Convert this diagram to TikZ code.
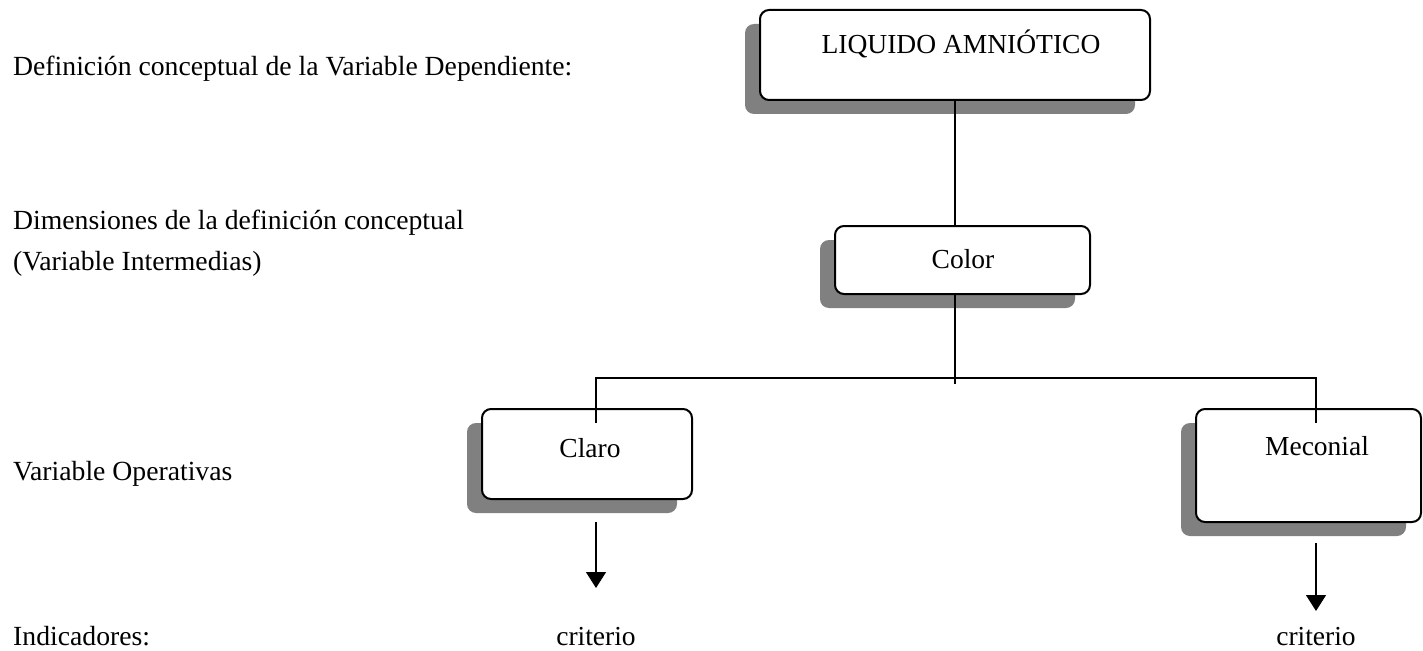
\documentclass[tikz,border=0pt]{standalone}
\usepackage{fontspec}
\setmainfont{Liberation Serif}
\usetikzlibrary{shadows,arrows.meta}

\tikzset{
  varbox/.style={draw=black, line width=2pt, fill=white, rounded corners=9pt, inner sep=0pt,
    drop shadow={shadow xshift=-15pt, shadow yshift=-14pt, fill=black!50, opacity=1}},
  vartext/.style={anchor=base, inner sep=0pt, font=\fontsize{27.5}{33}\selectfont},
  sidetext/.style={anchor=base west, inner sep=0pt, font=\fontsize{27.7}{33}\selectfont},
  link/.style={line width=1.3pt},
  arrowlink/.style={line width=1.3pt, -{Triangle[length=16pt,width=20pt]}}
}

\begin{document}
\begin{tikzpicture}[x=1pt, y=-1pt]
  %%%%% START %%%%%
  \useasboundingbox (0,0) rectangle (1423,650);

  \node[sidetext] (defcon) at (13,76) {Definición conceptual de la Variable Dependiente:};
  \node[sidetext] (dimcon) at (13,229) {Dimensiones de la definición conceptual};
  \node[sidetext] (varint) at (13,270) {(Variable Intermedias)};
  \node[sidetext] (varope) at (13,480) {Variable Operativas};
  \node[sidetext] (indic) at (13,645) {Indicadores:};

  \node[varbox, minimum width=390pt, minimum height=90pt] (liq) at (955,55) {};
  \node[varbox, minimum width=255pt, minimum height=68pt] (col) at (962.5,260) {};
  \node[varbox, minimum width=210pt, minimum height=90pt] (cla) at (587,454) {};
  \node[varbox, minimum width=225pt, minimum height=113pt] (mec) at (1308.5,465.5) {};

  \node[vartext] (liqtxt) at (961,54) {LIQUIDO AMNIÓTICO};
  \node[vartext] (coltxt) at (963,268) {Color};
  \node[vartext] (clatxt) at (590,457) {Claro};
  \node[vartext] (mectxt) at (1317,455) {Meconial};

  \node[vartext] (crit1) at (596,645) {criterio};
  \node[vartext] (crit2) at (1316,645) {criterio};

  \coordinate (hub) at (955,378);
  \coordinate (split) at (955,384);
  \coordinate (clatop) at (596,423);
  \coordinate (mectop) at (1316,423);
  \coordinate (claout) at (596,522);
  \coordinate (claend) at (596,588);
  \coordinate (mecout) at (1316,543);
  \coordinate (mecend) at (1316,611);

  \draw[link] (liq.south) -- (liq.south |- col.north);
  \draw[link] (liq.south |- col.south) -- (split);
  \draw[link] (clatop) |- (hub) -| (mectop);

  \draw[arrowlink] (claout) -- (claend);
  \draw[arrowlink] (mecout) -- (mecend);
  %%%%% END %%%%%
\end{tikzpicture}
\end{document}
